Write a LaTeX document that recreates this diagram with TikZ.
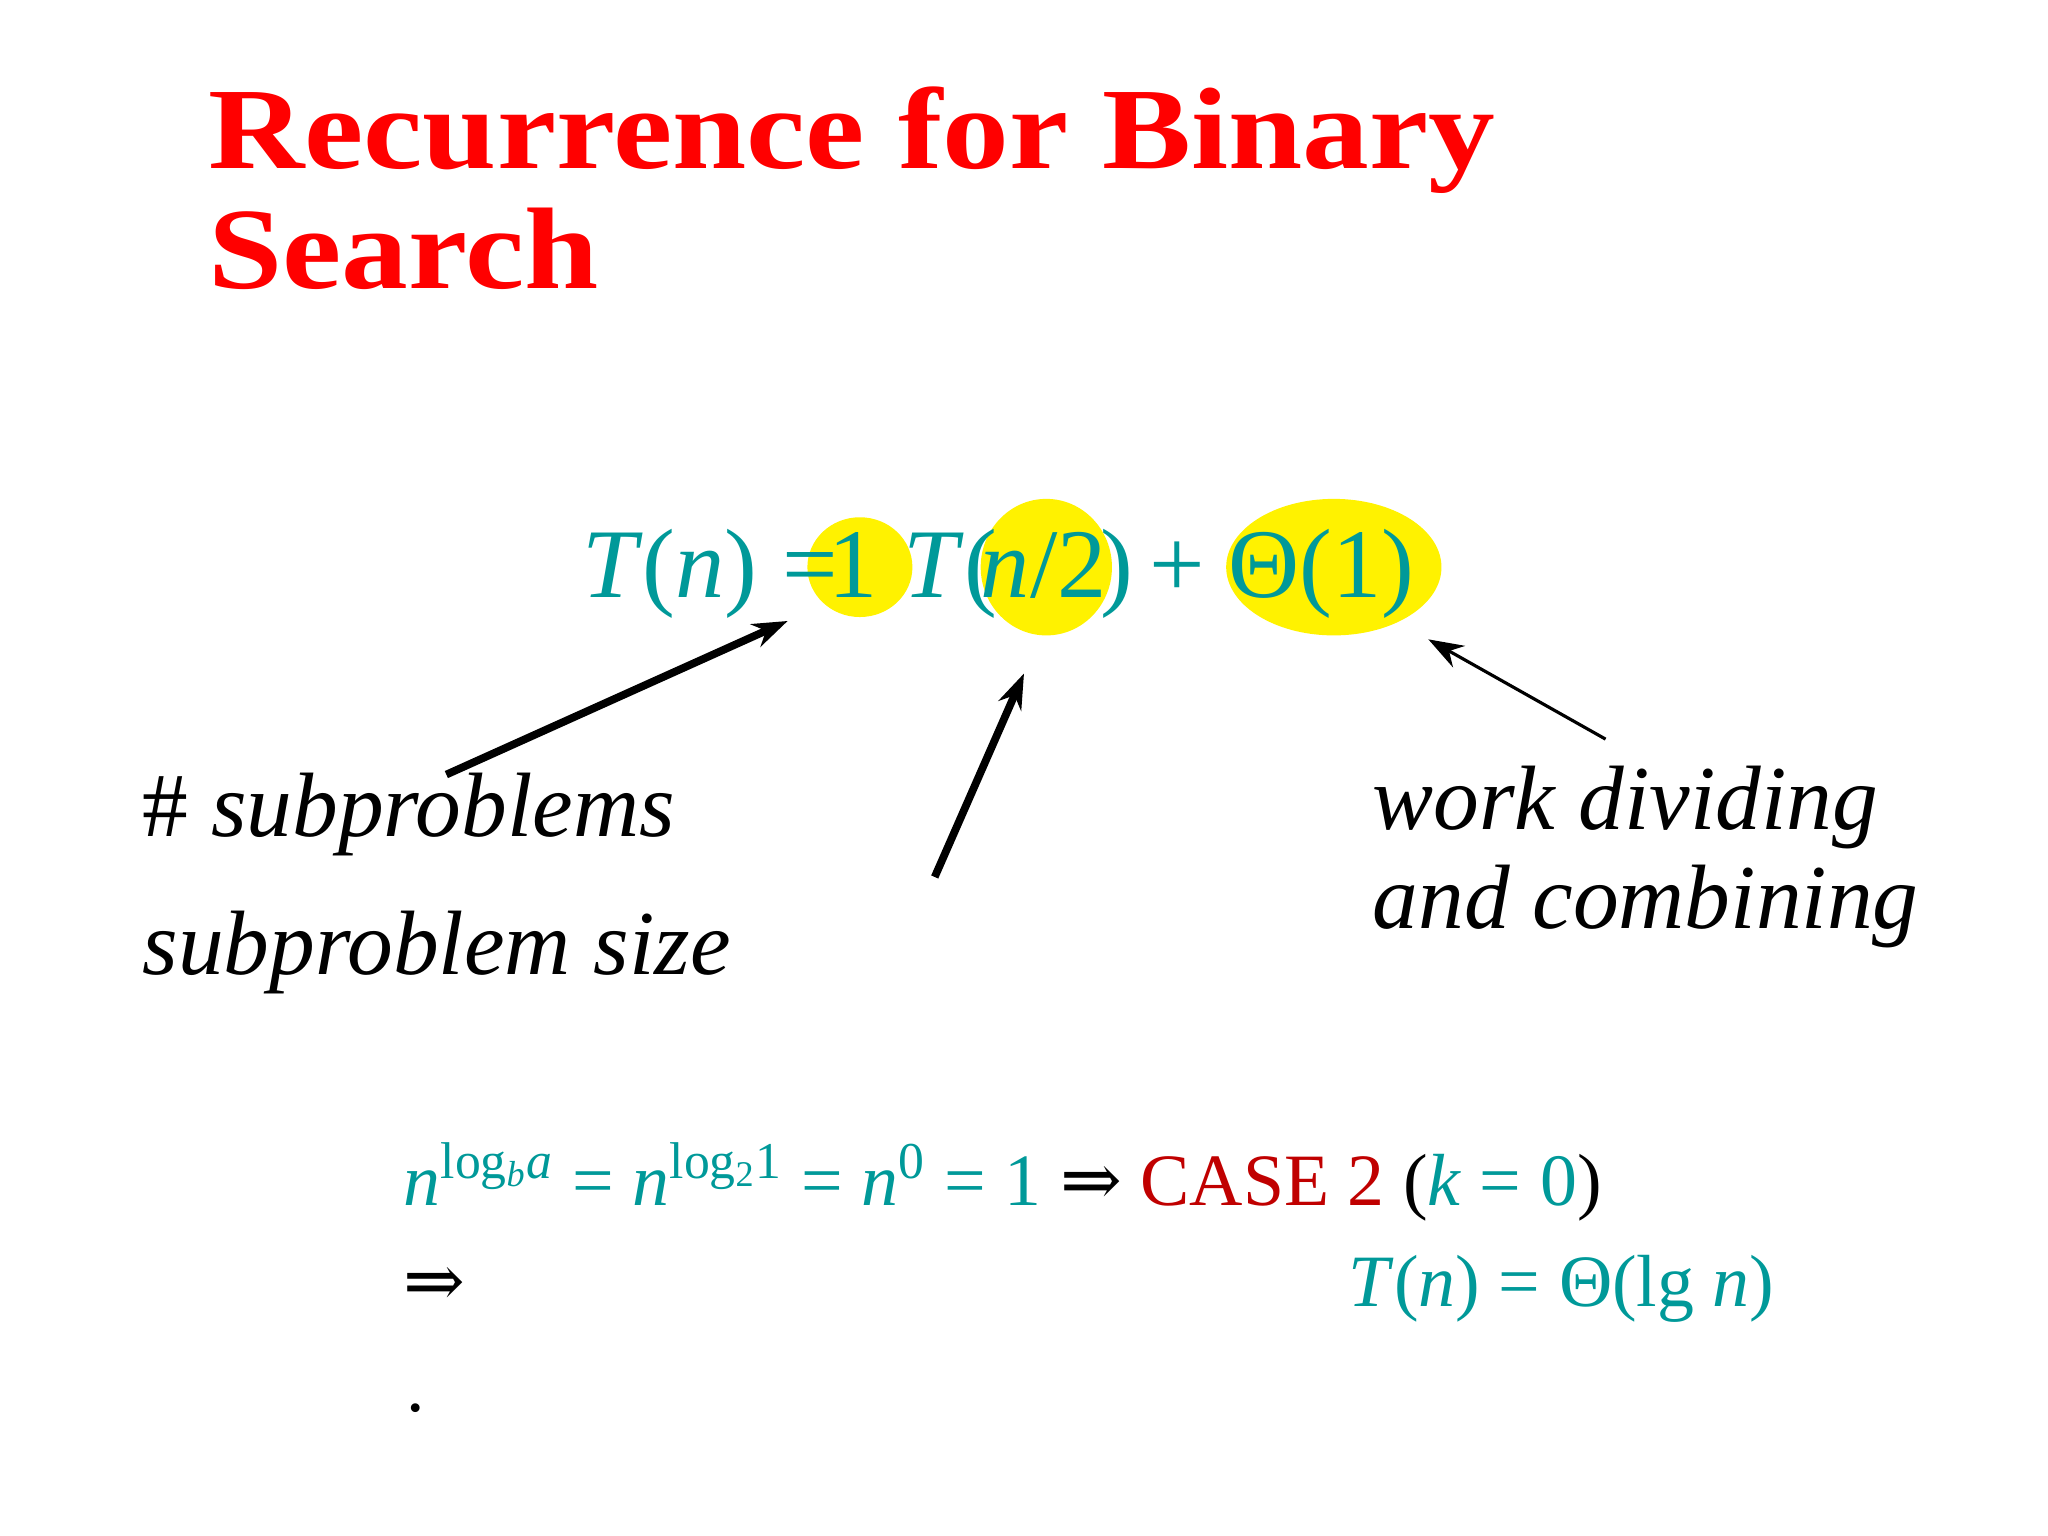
\documentclass[tikz,border=0pt]{standalone}
\usetikzlibrary{arrows.meta}
\usepackage{fontspec}
\setmainfont{Liberation Serif}
\newfontfamily\arrfont{DejaVu Serif}
\definecolor{teal}{RGB}{0,153,153}
\definecolor{caser}{RGB}{192,0,0}
\newcommand{\IMP}{{\arrfont ⇒}}
\begin{document}
\begin{tikzpicture}[x=0.01313cm,y=-0.01313cm,
  lbl/.style={anchor=base west,inner sep=0pt,font=\fontsize{26}{30}\selectfont\itshape},
  eqp/.style={anchor=base west,inner sep=0pt,text=teal,font=\fontsize{28}{32}\selectfont},
  eqc/.style={anchor=base,inner sep=0pt,text=teal,font=\fontsize{28}{32}\selectfont},
  bt/.style={anchor=base west,inner sep=0pt,font=\fontsize{21}{25}\selectfont},
  hl/.style={fill=yellow,draw=none},
  arr/.style={-{Stealth[length=10pt,width=7pt]}}]
\useasboundingbox (0,0) rectangle (1560,1170);
\node[anchor=base west,inner sep=0pt,text=red,font=\fontsize{33}{38}\selectfont\bfseries] (t1) at (158,128) {\scalebox{1.15}[1]{Recurrence for Binary}};
\node[anchor=base west,inner sep=0pt,text=red,font=\fontsize{33}{38}\selectfont\bfseries] (t2) at (158,220) {\scalebox{1.15}[1]{Search}};
\fill[hl] (655,432) ellipse [x radius=40,y radius=38];
\fill[hl] (797,432) ellipse [x radius=50,y radius=52];
\fill[hl] (1016,432) ellipse [x radius=82,y radius=52];
\node[eqp] (e1) at (443,455) {\textit{T}(\textit{n}) =};
\node[eqc] (e2) at (650,455) {1};
\node[eqp] (e3) at (688,455) {\textit{T}(};
\node[eqc] (e4) at (795,455) {\textit{n}/2};
\node[eqp] (e5) at (838,455) {)};
\node[eqc] (e6) at (897,455) {+};
\node[eqp] (e7) at (935,455) {Θ(1)};
\coordinate (a1s) at (340,590); \coordinate (a1e) at (600,473);
\coordinate (a2s) at (712,668); \coordinate (a2e) at (780,513);
\coordinate (a3s) at (1223,563); \coordinate (a3e) at (1088,487);
\draw[arr,line width=2.2pt] (a1s) -- (a1e);
\draw[arr,line width=2.2pt] (a2s) -- (a2e);
\draw[arr,line width=0.9pt] (a3s) -- (a3e);
\node[lbl] (l1) at (108,637) {\upshape\#\itshape\ subproblems};
\node[lbl] (l2) at (108,742) {subproblem size};
\node[lbl] (l3) at (1045,632) {work dividing};
\node[lbl] (l4) at (1045,707) {and combining};
\node[bt] (b1) at (307,918) {\textcolor{teal}{\textit{n}\textsuperscript{log\textsubscript{\itshape b}\itshape a} = \textit{n}\textsuperscript{log\textsubscript{2}1} = \textit{n}\textsuperscript{0} = 1} \IMP{} \textcolor{caser}{CASE 2} (\textcolor{teal}{\textit{k} = 0})};
\node[bt] (b2) at (307,995) {\IMP};
\node[bt,text=teal] (b3) at (1027,995) {\textit{T}(\textit{n}) = Θ(lg \textit{n})};
\node[bt] (b4) at (309,1075) {.};
\end{tikzpicture}
\end{document}
